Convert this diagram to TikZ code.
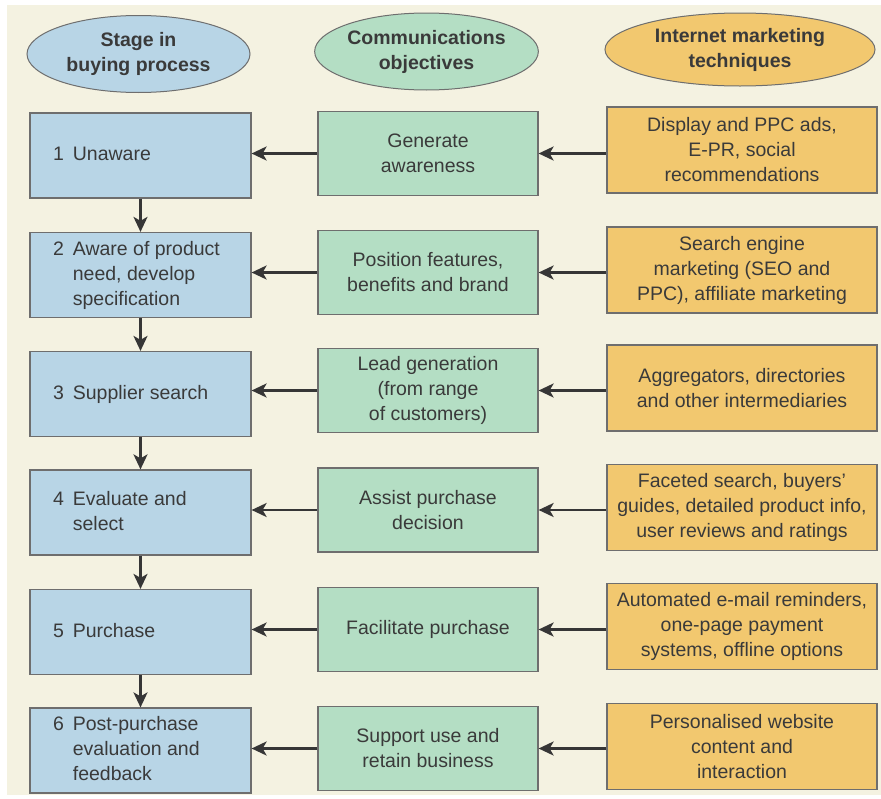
\documentclass[tikz,border=0pt]{standalone}
\usepackage{fontspec}
\setmainfont{Liberation Sans}
\usetikzlibrary{arrows.meta,shapes.geometric}

\definecolor{paper}{HTML}{F4F2E1}
\definecolor{stageblue}{HTML}{B8D5E6}
\definecolor{objgreen}{HTML}{B4DEC4}
\definecolor{techorange}{HTML}{F2C86F}
\definecolor{edgegray}{HTML}{6E6E6E}
\definecolor{inkgray}{HTML}{3A3A3A}
\definecolor{arrowgray}{HTML}{363636}

\newcommand{\stagetext}[2]{\makebox[175pt][l]{\begin{tabular}{@{}l@{\hspace{9pt}}l@{}}#1&#2\end{tabular}}}

\tikzset{
  basefont/.style={font=\fontsize{19.5}{25}\selectfont, text=inkgray},
  header/.style={ellipse, draw=edgegray, line width=1pt, inner sep=0pt,
    minimum width=223pt, minimum height=77pt, align=center, basefont,
    font=\fontsize{19.5}{25}\selectfont\bfseries},
  stagebox/.style={rectangle, draw=edgegray, line width=1.2pt, fill=stageblue,
    inner sep=0pt, minimum width=221pt, minimum height=85pt, basefont},
  objbox/.style={rectangle, draw=edgegray, line width=1.2pt, fill=objgreen,
    inner sep=0pt, minimum width=220pt, minimum height=84pt, align=center, basefont},
  techbox/.style={rectangle, draw=edgegray, line width=1.2pt, fill=techorange,
    inner sep=0pt, minimum width=270pt, minimum height=86pt, align=center, basefont},
  flow/.style={draw=arrowgray, line width=2.6pt,
    -{Stealth[length=15pt,width=14pt,inset=4pt]}},
}

\begin{document}
\begin{tikzpicture}[x=1pt,y=-1pt]
  % page and paper
  \fill[white] (0,0) rectangle (881,798);
  \fill[paper] (7,5) rectangle (881,795);
  \useasboundingbox (0,0) rectangle (881,798);

  % column headings
  \node[header, fill=stageblue] (h1) at (138.5,54) {Stage in\\buying process};
  \node[header, fill=objgreen] (h2) at (426.5,51.5) {Communications\\objectives};
  \node[header, fill=techorange, minimum width=270pt, minimum height=73pt] (h3) at (740,49.5) {Internet marketing\\techniques};

  % stages in the buying process
  \node[stagebox] (s1) at (140.5,155.5) {\stagetext{1}{Unaware}};
  \node[stagebox] (s2) at (140.5,275) {\stagetext{2}{Aware of product\\&need, develop\\&specification}};
  \node[stagebox] (s3) at (140.5,394) {\stagetext{3}{Supplier search}};
  \node[stagebox] (s4) at (140.5,512.5) {\stagetext{4}{Evaluate and\\&select}};
  \node[stagebox] (s5) at (140.5,632) {\stagetext{5}{Purchase}};
  \node[stagebox] (s6) at (140.5,750.5) {\stagetext{6}{Post-purchase\\&evaluation and\\&feedback}};

  % communications objectives
  \node[objbox] (o1) at (428,153.5) {Generate\\awareness};
  \node[objbox] (o2) at (428,272.5) {Position features,\\benefits and brand};
  \node[objbox] (o3) at (428,390.5) {Lead generation\\(from range\\of customers)};
  \node[objbox] (o4) at (428,510) {Assist purchase\\decision};
  \node[objbox] (o5) at (428,629.5) {Facilitate purchase};
  \node[objbox] (o6) at (428,748.5) {Support use and\\retain business};

  % internet marketing techniques
  \node[techbox] (t1) at (742,150) {Display and PPC ads,\\E-PR, social\\recommendations};
  \node[techbox] (t2) at (742,270) {Search engine\\marketing (SEO and\\PPC), affiliate marketing};
  \node[techbox] (t3) at (742,388) {Aggregators, directories\\and other intermediaries};
  \node[techbox] (t4) at (742,507.5) {Faceted search, buyers'\\guides, detailed product info,\\user reviews and ratings};
  \node[techbox] (t5) at (742,626.5) {Automated e-mail reminders,\\one-page payment\\systems, offline options};
  \node[techbox] (t6) at (742,746.5) {Personalised website\\content and\\interaction};

  % progression through the stages
  \foreach \a/\b in {s1/s2, s2/s3, s3/s4, s4/s5, s5/s6}
    \draw[flow] (\a.south) -- (\b.north);

  % techniques support objectives, objectives support stages
  \foreach \i in {1,...,6} {
    \draw[flow] (t\i.west |- o\i.east) -- (o\i.east);
    \draw[flow] (o\i.west) -- (s\i.east |- o\i.west);
  }
\end{tikzpicture}
\end{document}
